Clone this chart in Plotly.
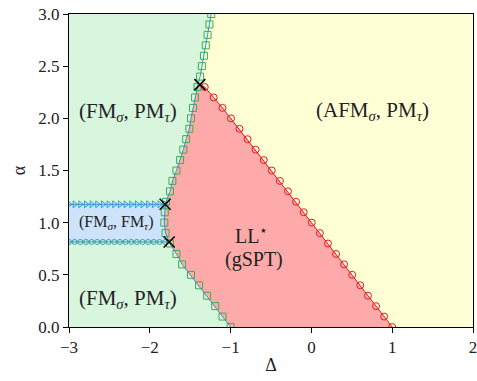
import plotly.graph_objects as go

# ---- data ----
# FM/AFM-type boundary (green squares, blue line)
bnd_alpha = [0.0, 0.1, 0.2, 0.3, 0.4, 0.5, 0.6, 0.7, 0.8, 0.9, 1.0, 1.1, 1.2, 1.3, 1.4, 1.5,
             1.6, 1.7, 1.8, 1.9, 2.0, 2.1, 2.2, 2.3, 2.4, 2.5, 2.6, 2.7, 2.8, 2.9, 3.0]
bnd_delta = [-1.00, -1.10, -1.19, -1.29, -1.39, -1.49, -1.60, -1.67, -1.75, -1.805, -1.82, -1.815,
             -1.80, -1.75, -1.72, -1.67, -1.625, -1.585, -1.55, -1.51, -1.49, -1.465, -1.44,
             -1.41, -1.377, -1.356, -1.33, -1.307, -1.285, -1.262, -1.24]

# LL* / AFM boundary (red circles)
red_alpha = [0.0, 0.1, 0.2, 0.3, 0.4, 0.5, 0.6, 0.7, 0.8, 0.9, 1.0, 1.1, 1.2, 1.3, 1.4, 1.5,
             1.6, 1.7, 1.8, 1.9, 2.0, 2.1, 2.2, 2.3]
red_delta = [1.00, 0.90, 0.80, 0.70, 0.605, 0.505, 0.405, 0.305, 0.205, 0.105, 0.005, -0.095,
             -0.19, -0.29, -0.39, -0.49, -0.59, -0.69, -0.79, -0.89, -0.995, -1.10, -1.21, -1.32]

# (FM, FM) region edges
fmfm_delta = [-3.00, -2.93, -2.86, -2.79, -2.72, -2.65, -2.58, -2.51, -2.44, -2.37, -2.30,
              -2.23, -2.16, -2.09, -2.02, -1.95, -1.88, -1.81]
fmfm_top = 1.176
fmfm_bot = 0.815

# multicritical points
cross_delta = [-1.38, -1.81, -1.76]
cross_alpha = [2.323, 1.176, 0.815]

XR = [-3, 2]
YR = [0, 3]

C_GREEN = "#d8f5de"
C_YELLOW = "#ffffd6"
C_RED = "#ffaaaa"
C_BLUE = "#cde2fb"

fig = go.Figure()

# green region (left of boundary)
fig.add_trace(go.Scatter(
    x=[XR[0]] + bnd_delta + [XR[0]], y=[YR[0]] + bnd_alpha + [YR[1]],
    fill="toself", fillcolor=C_GREEN, line=dict(width=0), mode="lines",
    hoverinfo="skip", showlegend=False))

# red region
lo = [(d, a) for d, a in zip(bnd_delta, bnd_alpha) if a < cross_alpha[0]]
red_x = [p[0] for p in lo] + [cross_delta[0]] + red_delta[::-1]
red_y = [p[1] for p in lo] + [cross_alpha[0]] + red_alpha[::-1]
fig.add_trace(go.Scatter(
    x=red_x, y=red_y, fill="toself", fillcolor=C_RED, line=dict(width=0),
    mode="lines", hoverinfo="skip", showlegend=False))

# blue (FM,FM) region
mid = [(d, a) for d, a in zip(bnd_delta, bnd_alpha) if fmfm_bot < a < fmfm_top]
blue_x = [XR[0], cross_delta[2]] + [p[0] for p in mid] + [cross_delta[1], XR[0]]
blue_y = [fmfm_bot, fmfm_bot] + [p[1] for p in mid] + [fmfm_top, fmfm_top]
fig.add_trace(go.Scatter(
    x=blue_x, y=blue_y, fill="toself", fillcolor=C_BLUE, line=dict(width=0),
    mode="lines", hoverinfo="skip", showlegend=False))

# boundary line + squares
fig.add_trace(go.Scatter(
    x=bnd_delta, y=bnd_alpha, mode="markers",
    marker=dict(symbol="square-open", size=7, color="#3cb043", line=dict(width=1)),
    showlegend=False))
fig.add_trace(go.Scatter(
    x=bnd_delta, y=bnd_alpha, mode="lines",
    line=dict(color="#3a8fd0", width=1), showlegend=False))

# red line
fig.add_trace(go.Scatter(
    x=red_delta + [cross_delta[0]], y=red_alpha + [cross_alpha[0]], mode="lines",
    line=dict(color="#e8191e", width=1), showlegend=False))
fig.add_trace(go.Scatter(
    x=red_delta, y=red_alpha, mode="markers",
    marker=dict(symbol="circle-open", size=7, color="#e8191e", line=dict(width=1)),
    showlegend=False))

# FM,FM edges
fig.add_trace(go.Scatter(
    x=fmfm_delta + [cross_delta[1]], y=[fmfm_top] * (len(fmfm_delta) + 1),
    mode="lines", line=dict(color="#3a8fd0", width=1), showlegend=False))
fig.add_trace(go.Scatter(
    x=fmfm_delta, y=[fmfm_top] * len(fmfm_delta), mode="markers",
    marker=dict(symbol="triangle-right-open", size=6, color="#2a9fd6", line=dict(width=1)),
    showlegend=False))
fig.add_trace(go.Scatter(
    x=fmfm_delta + [cross_delta[2]], y=[fmfm_bot] * (len(fmfm_delta) + 1),
    mode="lines", line=dict(color="#3a8fd0", width=1), showlegend=False))
fig.add_trace(go.Scatter(
    x=fmfm_delta, y=[fmfm_bot] * len(fmfm_delta), mode="markers",
    marker=dict(symbol="circle-open", size=5, color="#2ca59a", line=dict(width=1)),
    showlegend=False))

# crosses
fig.add_trace(go.Scatter(
    x=cross_delta, y=cross_alpha, mode="markers",
    marker=dict(symbol="x-thin", size=11, color="black", line=dict(width=1.6, color="black")),
    showlegend=False))

FONT = "Liberation Serif, DejaVu Serif, serif"
ann = [
    dict(x=-2.27, y=2.06, text="(FM<sub><i>σ</i></sub>, PM<sub><i>τ</i></sub>)", size=21),
    dict(x=-2.27, y=0.27, text="(FM<sub><i>σ</i></sub>, PM<sub><i>τ</i></sub>)", size=21),
    dict(x=0.76, y=2.07, text="(AFM<sub><i>σ</i></sub>, PM<sub><i>τ</i></sub>)", size=21),
    dict(x=-2.42, y=1.0, text="(FM<sub><i>σ</i></sub>, FM<sub><i>τ</i></sub>)", size=16),
    dict(x=-0.74, y=0.88, text="LL<sup>⋆</sup>", size=20),
    dict(x=-0.71, y=0.65, text="(gSPT)", size=20),
]
for a in ann:
    fig.add_annotation(x=a["x"], y=a["y"], xref="x", yref="y", text=a["text"],
                       showarrow=False, font=dict(family=FONT, size=a["size"], color="#222"))

axis_common = dict(showgrid=False, zeroline=False, showline=True, mirror=True,
                   linecolor="black", linewidth=1, ticks="outside", ticklen=5,
                   tickcolor="black", automargin=False, ticklabeloverflow="allow",
                   tickfont=dict(family=FONT, size=17, color="#222"))
fig.update_xaxes(range=XR, tickvals=[-3, -2, -1, 0, 1, 2],
                 title=dict(text="Δ", font=dict(family=FONT, size=18, color="#222"), standoff=1),
                 **axis_common)
fig.update_yaxes(range=YR, tickvals=[0, 0.5, 1.0, 1.5, 2.0, 2.5, 3.0], tickformat=".1f",
                 title=dict(text="α", font=dict(family=FONT, size=18, color="#222"), standoff=8),
                 **axis_common)

fig.update_layout(width=477, height=381, margin=dict(l=69, r=4, t=14, b=54),
                  plot_bgcolor=C_YELLOW, paper_bgcolor="white",
                  font=dict(family=FONT))

# remove the default page margin so the figure sits at the window's origin
fig.write_html("out.html", config={"displayModeBar": False},
               post_script="document.body.style.margin='0';document.body.style.overflow='hidden';")
